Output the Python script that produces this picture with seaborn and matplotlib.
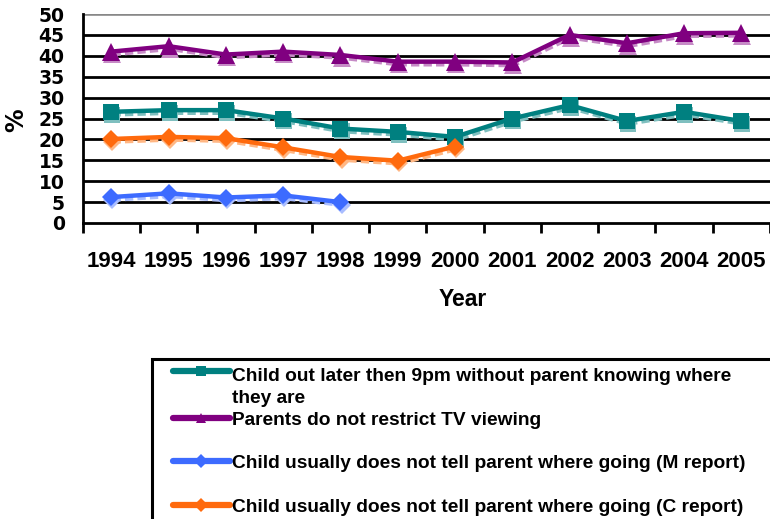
import matplotlib
matplotlib.use("Agg")
import matplotlib.pyplot as plt
from matplotlib.lines import Line2D
from matplotlib.patches import Rectangle
from matplotlib.transforms import ScaledTranslation
import numpy as np
import pandas as pd
import seaborn as sns

# ---- data -------------------------------------------------------------
years = [1994, 1995, 1996, 1997, 1998, 1999, 2000, 2001, 2002, 2003, 2004, 2005]

out_late = [26.6, 27.0, 27.0, 25.0, 22.6, 21.8, 20.6, 25.0, 28.2, 24.4, 26.6, 24.4]
no_tv_limit = [41.0, 42.3, 40.3, 41.0, 40.2, 38.6, 38.6, 38.4, 45.0, 43.0, 45.4, 45.5]
no_tell_m = [6.2, 7.1, 6.1, 6.6, 5.0, None, None, None, None, None, None, None]
no_tell_c = [20.1, 20.6, 20.3, 18.1, 15.8, 14.9, 18.3, None, None, None, None, None]

series_names = [
    "Child out later then 9pm without parent knowing where\nthey are",
    "Parents do not restrict TV viewing",
    "Child usually does not tell parent where going (M report)",
    "Child usually does not tell parent where going (C report)",
]
series_values = [out_late, no_tv_limit, no_tell_m, no_tell_c]
series_colors = ["#008080", "#800080", "#3D6BFF", "#FF6A0D"]
shadow_colors = ["#7FBFBF", "#C68BC6", "#A9BDFF", "#FFB784"]
series_markers = ["s", "^", "D", "D"]
marker_sizes = [12, 12.5, 9, 9]

y_ticks = list(range(0, 55, 5))

ARIAL = ["Liberation Sans", "DejaVu Sans"]

# ---- figure -------------------------------------------------------------
sns.set_theme(style="white")
plt.rcParams["font.family"] = ["DejaVu Sans"]

W, H = 770, 519
fig = plt.figure(figsize=(W / 100, H / 100), dpi=100)
ax = fig.add_axes([82.7 / W, 1 - 223 / H, 1 - 82.7 / W, (223 - 14) / H])

rows = []
for name, vals in zip(series_names, series_values):
    for yr, v in zip(years, vals):
        rows.append({"Year": yr, "Pct": np.nan if v is None else v, "Series": name})
df = pd.DataFrame(rows)

shadow_shift = ax.transData + ScaledTranslation(0.8 / 72, -2.0 / 72, fig.dpi_scale_trans)

for name, col, scol, mk, ms in zip(series_names, series_colors, shadow_colors,
                                   series_markers, marker_sizes):
    sub = df[df["Series"] == name].dropna()
    # soft offset copy underneath the series
    sns.lineplot(data=sub, x="Year", y="Pct", ax=ax, color=scol, linewidth=3.0,
                 marker=mk, markersize=ms, markeredgecolor=scol,
                 markeredgewidth=0, transform=shadow_shift, zorder=3,
                 legend=False, errorbar=None, linestyle=(0, (2, 1)))
    sns.lineplot(data=sub, x="Year", y="Pct", ax=ax, color=col, linewidth=3.2,
                 marker=mk, markersize=ms, markeredgecolor=col,
                 markeredgewidth=0, zorder=4, legend=False, errorbar=None)

ax.set_xlim(years[0] - 0.5, years[-1] + 0.5)
ax.set_ylim(0, 50)

# horizontal gridlines (top one grey)
for t in y_ticks[1:]:
    ax.axhline(t, color="#888888" if t == 50 else "black",
               lw=2.6 if t == 50 else 2.0, zorder=1)

for s in ["top", "right"]:
    ax.spines[s].set_visible(False)
for s in ["left", "bottom"]:
    ax.spines[s].set_color("black")
    ax.spines[s].set_linewidth(2.0)

ax.set_yticks(y_ticks)
ax.set_yticklabels([str(t) for t in y_ticks], fontsize=13.5, fontweight="bold",
                   color="black")
ax.tick_params(axis="y", direction="out", length=5, width=2, color="black", pad=8)

# year labels centred on points, tick marks between categories
ax.set_xticks(years)
ax.set_xticklabels([str(y) for y in years], fontsize=16, fontweight="bold",
                   family=ARIAL, color="black")
ax.tick_params(axis="x", which="major", length=0, pad=20)
ax.set_xticks([y - 0.5 for y in years] + [years[-1] + 0.5], minor=True)
ax.tick_params(axis="x", which="minor", direction="out", length=7, width=2,
               color="black", bottom=True)
ax.set_xlabel("")
ax.set_ylabel("")

fig.text(16 / W, 1 - 120 / H, "%", rotation=90, ha="center", va="center",
         fontsize=17, fontweight="bold", color="black")
fig.text(463 / W, 1 - 300 / H, "Year", ha="center", va="center",
         fontsize=16.5, fontweight="bold", family=ARIAL, color="black")

# ---- legend box ---------------------------------------------------------
fig.patches.append(Rectangle((152 / W, -0.1), 1.0, (1 - 359 / H) + 0.1,
                             transform=fig.transFigure, fill=False,
                             edgecolor="black", linewidth=2.2, zorder=5))
entry_y = [371, 418, 461, 505]
line_gap = 25  # pixel distance between wrapped label lines
for name, col, mk, yy in zip(series_names, series_colors, series_markers, entry_y):
    fy = 1 - yy / H
    fig.lines.append(Line2D([173 / W, 230 / W], [fy, fy], transform=fig.transFigure,
                            color=col, lw=4.5, solid_capstyle="round"))
    fig.lines.append(Line2D([201 / W], [fy], transform=fig.transFigure, color=col,
                            marker=mk, markersize=7, markeredgewidth=0))
    extra = name.count("\n") * line_gap
    fig.text(232 / W, 1 - (yy + 7 + extra) / H, name, ha="left", va="baseline",
             fontsize=13.8, fontweight="bold", family=ARIAL, color="black",
             linespacing=1.4)

fig.savefig("out.png", dpi=100)
